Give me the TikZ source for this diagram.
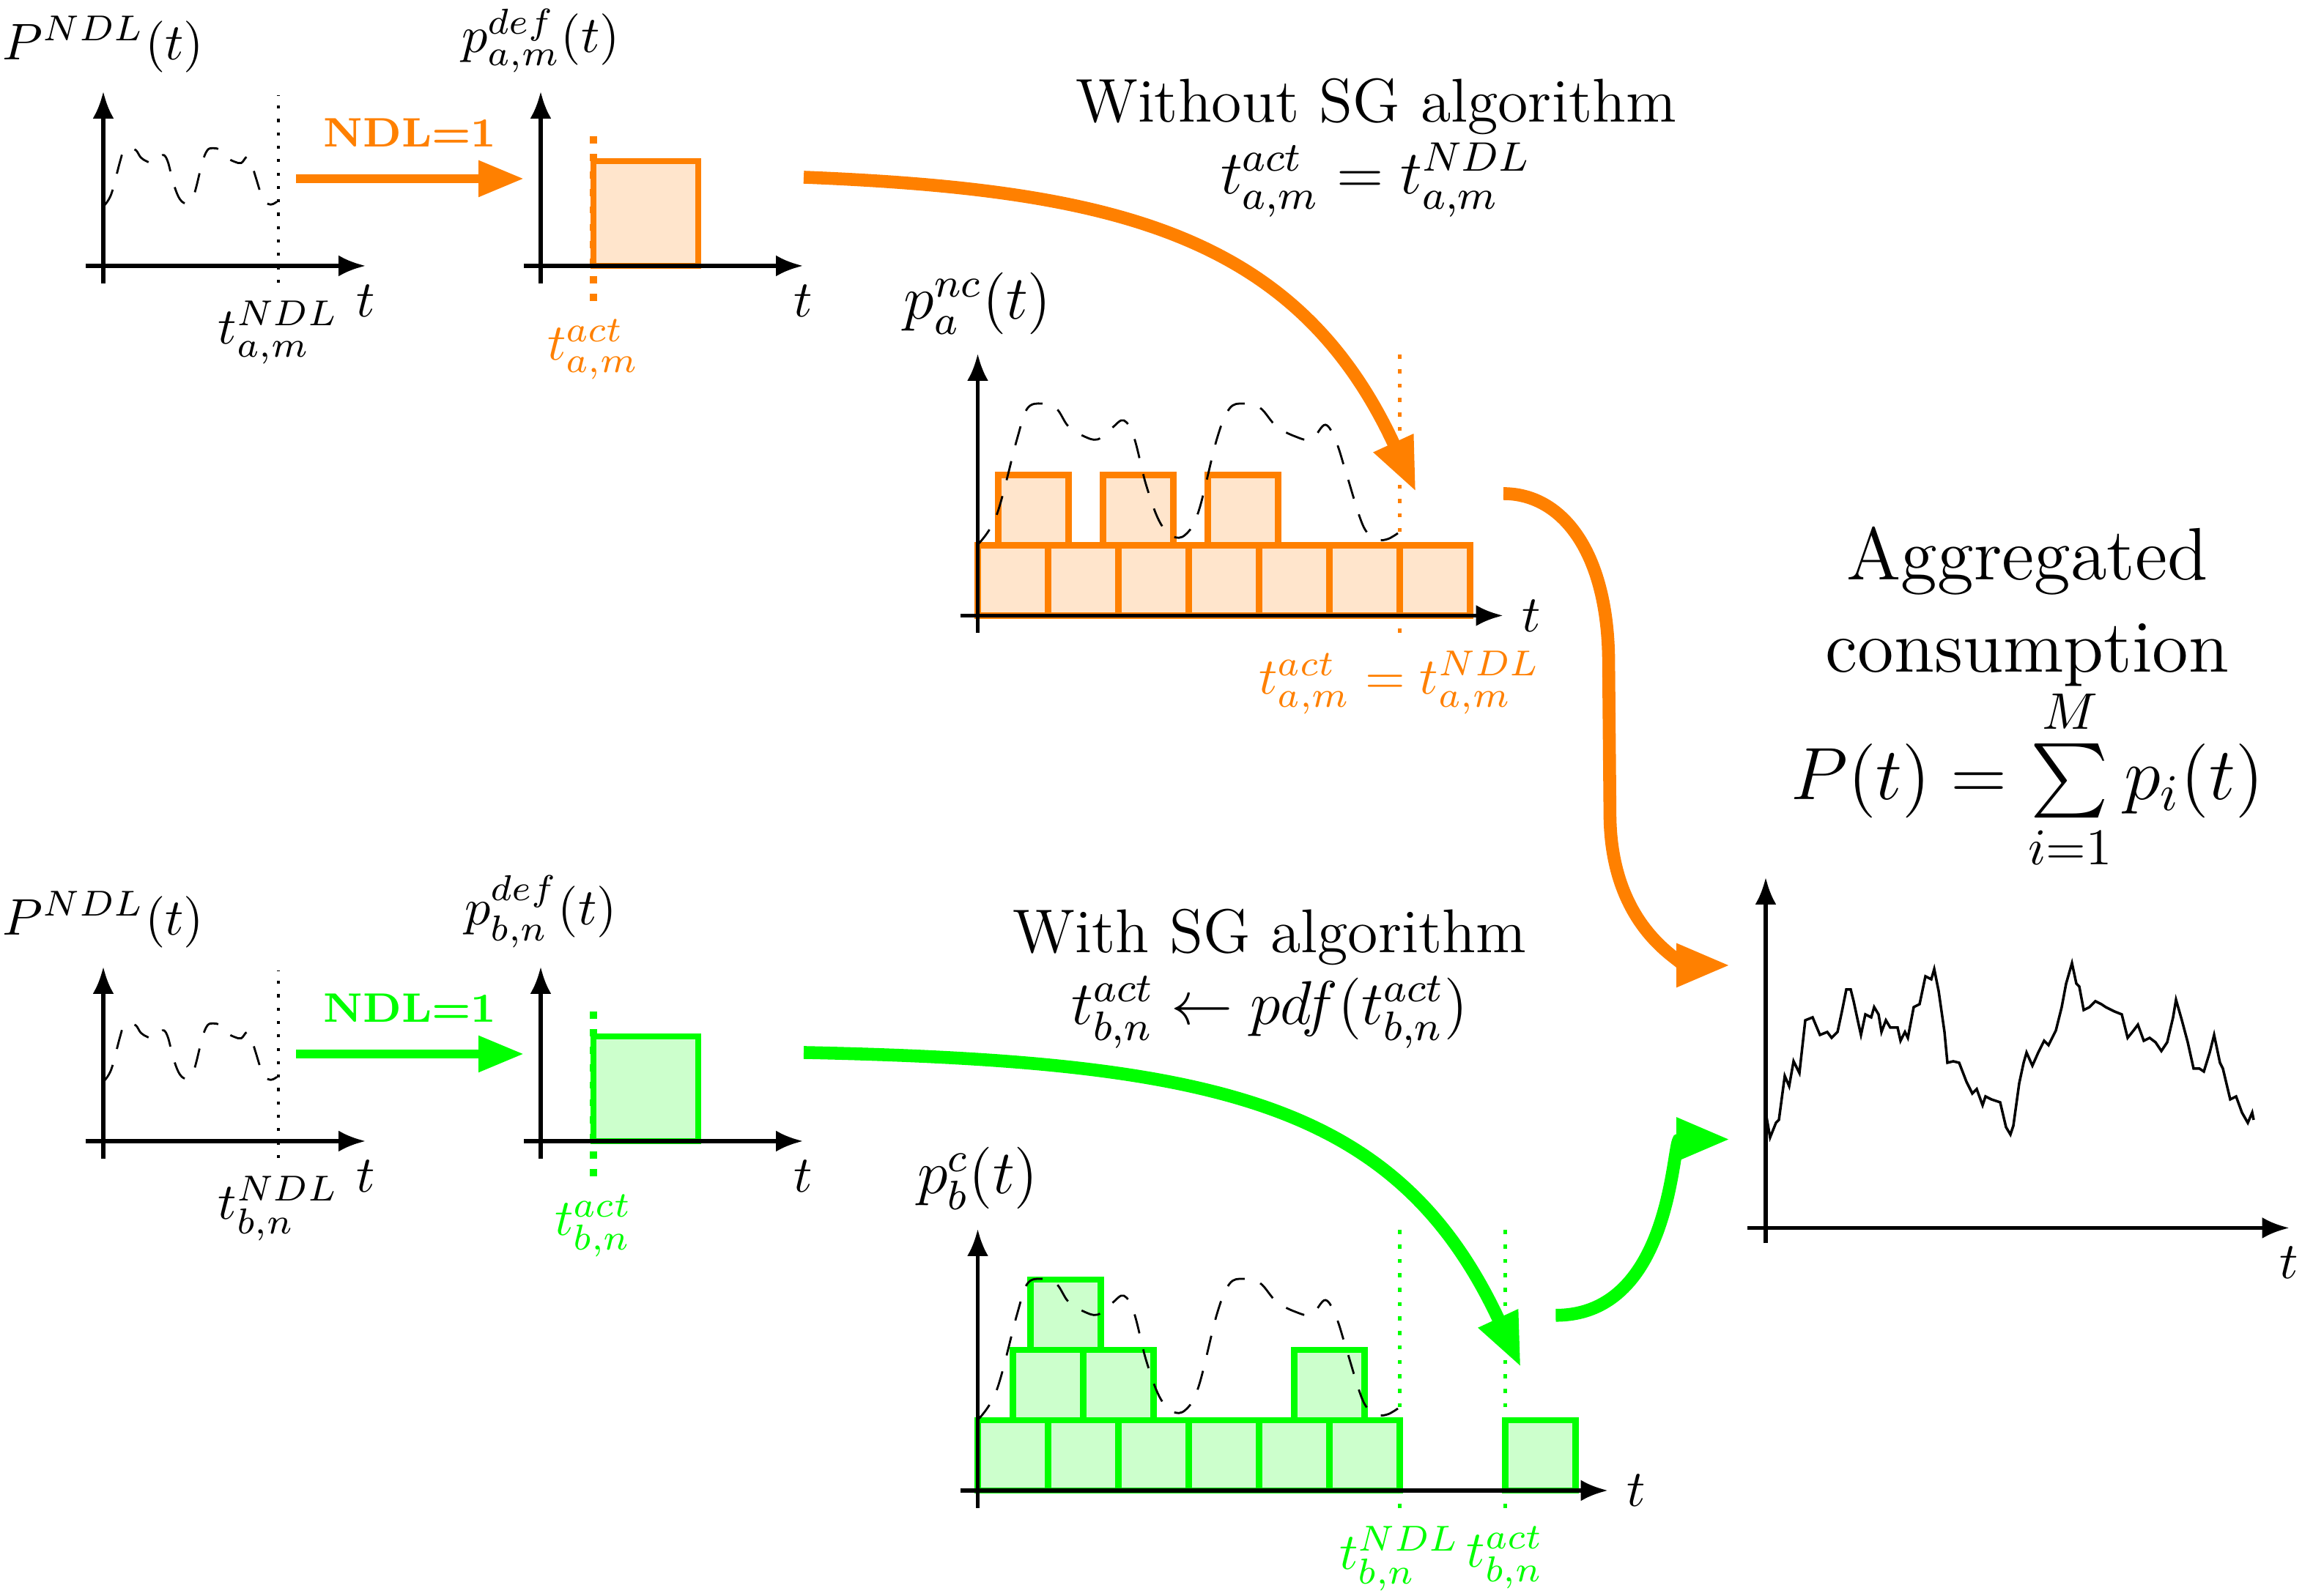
\documentclass[tikz,border=0pt]{standalone}
\usepackage{amsmath}
\usetikzlibrary{arrows.meta}

% dashed load profile, drawn at a shift and a scale
\newcommand{\loadcurve}[2]{\draw[dash pattern=on 3.8pt off 3.2pt, shift={#1}, scale=#2] plot[smooth, tension=0.6] coordinates {(0,0) (0.13,0.2) (0.27,0.72) (0.34,0.93) (0.44,0.965) (0.54,0.93) (0.62,0.81) (0.72,0.745) (0.82,0.72) (0.92,0.80) (1.0,0.85) (1.07,0.73) (1.15,0.415) (1.24,0.165) (1.33,0.06) (1.42,0.07) (1.51,0.23) (1.635,0.725) (1.72,0.93) (1.815,0.965) (1.93,0.935) (2.04,0.81) (2.17,0.74) (2.28,0.72) (2.375,0.82) (2.45,0.70) (2.52,0.48) (2.635,0.125) (2.73,0.04) (2.80,0.04) (2.87,0.08)};}

\begin{document}
\begin{tikzpicture}[axis/.style={thick, -{Latex[length=1.85mm, width=1.45mm]}},
    ndlline/.style={semithick, dotted},
    ndlarrow/.style={line width=1.7pt, -{Triangle[length=3.1mm, width=2.35mm]}},
    flow/.style={line width=2.5pt, -{Triangle[length=3.7mm, width=2.75mm]}},
    block/.style={very thick, draw=#1, fill=#1!20}]
    \useasboundingbox (0,0) rectangle (15.785,10.895);

    % without SG algorithm
    \draw[ndlline] (1.90,8.965) coordinate (ndl-a) -- (1.90,10.245);
    \loadcurve{(0.705,9.485)}{0.413}
    \draw[axis] (0.705,8.96) -- (0.705,10.27) node[above] (pndl-a) {$P^{NDL}(t)$};
    \draw[axis] (0.585,9.08) -- (2.495,9.08) node[below] (t-a1) {$t$};
    \node[below] (tndl-a) at (ndl-a) {$t^{NDL}_{a,m}$};

    \coordinate (ndl-a-from) at (2.02,9.675);
    \coordinate (ndl-a-to) at (3.575,9.675);
    \draw[ndlarrow, orange] (ndl-a-from) -- node[above=2pt, font=\footnotesize\bfseries] (ndl-a-lbl) {NDL=1} (ndl-a-to);

    \draw[orange, line width=1.4pt, dotted] (4.05,8.84) coordinate (act-a) -- (4.05,10.02);
    \draw[block=orange] (4.05,9.08) rectangle (4.765,9.795);
    \draw[axis] (3.69,8.96) -- (3.69,10.27) node[above] (pdef-a) {$p^{def}_{a,m}(t)$};
    \draw[axis] (3.575,9.08) -- (5.48,9.08) node[below] (t-a2) {$t$};
    \node[below, orange] (tact-a) at (act-a) {$t^{act}_{a,m}$};

    \node[anchor=north, align=center, font=\large] (nosg) at (9.39,10.485) {Without SG algorithm\\$t^{act}_{a,m}=t^{NDL}_{a,m}$};

    \draw[orange, thick, dotted] (9.5525,6.575) coordinate (nc-mark) -- (9.5525,8.48);
    \foreach \i in {0,...,6}
        \draw[block=orange] (6.6725+0.48*\i,6.6925) rectangle ++(0.48,0.48);
    \foreach \dx in {0.14,0.855,1.57}
        \draw[block=orange] (6.6725+\dx,7.1725) rectangle ++(0.48,0.48);
    \loadcurve{(6.67,7.175)}{1}
    \draw[axis] (6.6725,6.575) -- (6.6725,8.48) node[above] (pnc) {\large$p^{nc}_a(t)$};
    \draw[axis] (6.555,6.6925) -- (10.2575,6.6925) node[right] (t-nc) {$t$};
    \node[below, orange] (tnc) at (nc-mark) {$t^{act}_{a,m}=t^{NDL}_{a,m}$};

    \coordinate (flow-a-start) at (5.485,9.685);
    \coordinate (flow-a-end) at (9.664,7.535);
    \draw[flow, orange] (flow-a-start) .. controls (7.6,9.6) and (8.85,9.3) .. (flow-a-end);

    % with SG algorithm
    \begin{scope}[yshift=-5.975cm]
        \draw[ndlline] (1.90,8.965) coordinate (ndl-b) -- (1.90,10.245);
        \loadcurve{(0.705,9.485)}{0.413}
        \draw[axis] (0.705,8.96) -- (0.705,10.27) node[above] (pndl-b) {$P^{NDL}(t)$};
        \draw[axis] (0.585,9.08) -- (2.495,9.08) node[below] (t-b1) {$t$};
        \node[below] (tndl-b) at (ndl-b) {$t^{NDL}_{b,n}$};

        \coordinate (ndl-b-from) at (2.02,9.675);
        \coordinate (ndl-b-to) at (3.575,9.675);
        \draw[ndlarrow, green] (ndl-b-from) -- node[above=2pt, font=\footnotesize\bfseries] (ndl-b-lbl) {NDL=1} (ndl-b-to);

        \draw[green, line width=1.4pt, dotted] (4.05,8.84) coordinate (act-b) -- (4.05,10.02);
        \draw[block=green] (4.05,9.08) rectangle (4.765,9.795);
        \draw[axis] (3.69,8.96) -- (3.69,10.27) node[above] (pdef-b) {$p^{def}_{b,n}(t)$};
        \draw[axis] (3.575,9.08) -- (5.48,9.08) node[below] (t-b2) {$t$};
        \node[below, green] (tact-b) at (act-b) {$t^{act}_{b,n}$};
    \end{scope}

    \node[anchor=north, align=center, font=\large] (sg) at (8.665,4.815) {With SG algorithm\\$t^{act}_{b,n}\leftarrow pdf(t^{act}_{b,n})$};

    \draw[green, thick, dotted] (9.5525,0.60) coordinate (c-ndl) -- (9.5525,2.505);
    \draw[green, thick, dotted] (10.2725,0.60) coordinate (c-act) -- (10.2725,2.505);
    \foreach \i in {0,...,5}
        \draw[block=green] (6.6725+0.48*\i,0.72) rectangle ++(0.48,0.48);
    \draw[block=green] (10.2725,0.72) rectangle ++(0.48,0.48);
    \foreach \dx in {0.24,0.72,2.16}
        \draw[block=green] (6.6725+\dx,1.2) rectangle ++(0.48,0.48);
    \draw[block=green] (7.0325,1.68) rectangle ++(0.48,0.48);
    \loadcurve{(6.67,1.2)}{1}
    \draw[axis] (6.6725,0.60) -- (6.6725,2.505) node[above] (pc) {\large$p^{c}_b(t)$};
    \draw[axis] (6.5525,0.72) -- (10.973,0.72) node[right] (t-c) {$t$};
    \node[below, green] (tndl-c) at (c-ndl) {$t^{NDL}_{b,n}$};
    \node[below, green] (tact-c) at (c-act) {$t^{act}_{b,n}$};

    \coordinate (flow-b-start) at (5.485,3.71);
    \coordinate (flow-b-end) at (10.38,1.56);
    \draw[flow, green] (flow-b-start) .. controls (8.3,3.65) and (9.535,3.373) .. (flow-b-end);

    % aggregated consumption
    \node[anchor=north, align=center, font=\Large] (agg) at (13.835,7.425) {Aggregated\\consumption\\[-1pt]$P(t)=\sum\limits_{i=1}^{M}p_i(t)$};
    \draw[line width=0.5pt] plot coordinates {(12.05,3.30) (12.08,3.13) (12.12,3.23) (12.14,3.25) (12.18,3.55) (12.21,3.48) (12.24,3.65) (12.28,3.57) (12.32,3.93) (12.37,3.95) (12.42,3.83) (12.47,3.85) (12.50,3.81) (12.54,3.85) (12.57,3.99) (12.60,4.14) (12.63,4.14) (12.65,4.06) (12.68,3.92) (12.70,3.83) (12.73,3.97) (12.77,3.95) (12.79,4.02) (12.82,3.97) (12.84,3.85) (12.87,3.93) (12.90,3.88) (12.95,3.88) (12.97,3.79) (13.00,3.85) (13.02,3.81) (13.06,4.02) (13.10,4.04) (13.14,4.23) (13.18,4.21) (13.20,4.28) (13.23,4.13) (13.27,3.85) (13.29,3.64) (13.33,3.65) (13.37,3.64) (13.42,3.51) (13.46,3.43) (13.49,3.46) (13.53,3.35) (13.55,3.41) (13.59,3.39) (13.65,3.37) (13.69,3.20) (13.72,3.15) (13.74,3.21) (13.78,3.50) (13.81,3.64) (13.83,3.71) (13.87,3.62) (13.91,3.71) (13.95,3.79) (13.98,3.76) (14.03,3.86) (14.07,4.02) (14.10,4.18) (14.14,4.32) (14.17,4.18) (14.19,4.16) (14.22,4.00) (14.26,4.02) (14.30,4.06) (14.34,4.04) (14.37,4.02) (14.43,3.99) (14.48,3.97) (14.52,3.81) (14.56,3.86) (14.59,3.90) (14.63,3.79) (14.67,3.81) (14.71,3.78) (14.75,3.72) (14.79,3.78) (14.83,3.95) (14.85,4.07) (14.89,3.93) (14.93,3.78) (14.97,3.60) (15.01,3.60) (15.04,3.58) (15.08,3.71) (15.11,3.83) (15.15,3.64) (15.17,3.60) (15.22,3.39) (15.26,3.41) (15.30,3.30) (15.34,3.23) (15.37,3.30) (15.38,3.25)};
    \draw[axis] (12.05,2.4075) -- (12.05,4.905);
    \draw[axis] (11.925,2.5125) -- (15.623,2.5125) node[below] (t-agg) {$t$};

    \coordinate (agg-a-start) at (10.26,7.525);
    \coordinate (agg-a-end) at (11.81,4.305);
    \draw[flow, orange] (agg-a-start) .. controls (10.663,7.525) and (10.978,7.122) .. (10.978,6.365) -- (10.987,5.345) .. controls (10.987,4.48) and (11.587,4.305) .. (agg-a-end);
    \coordinate (agg-b-start) at (10.617,1.916);
    \coordinate (agg-b-end) at (11.81,3.117);
    \draw[flow, green] (agg-b-start) .. controls (11.42,1.916) and (11.41,3.117) .. (agg-b-end);
\end{tikzpicture}
\end{document}
